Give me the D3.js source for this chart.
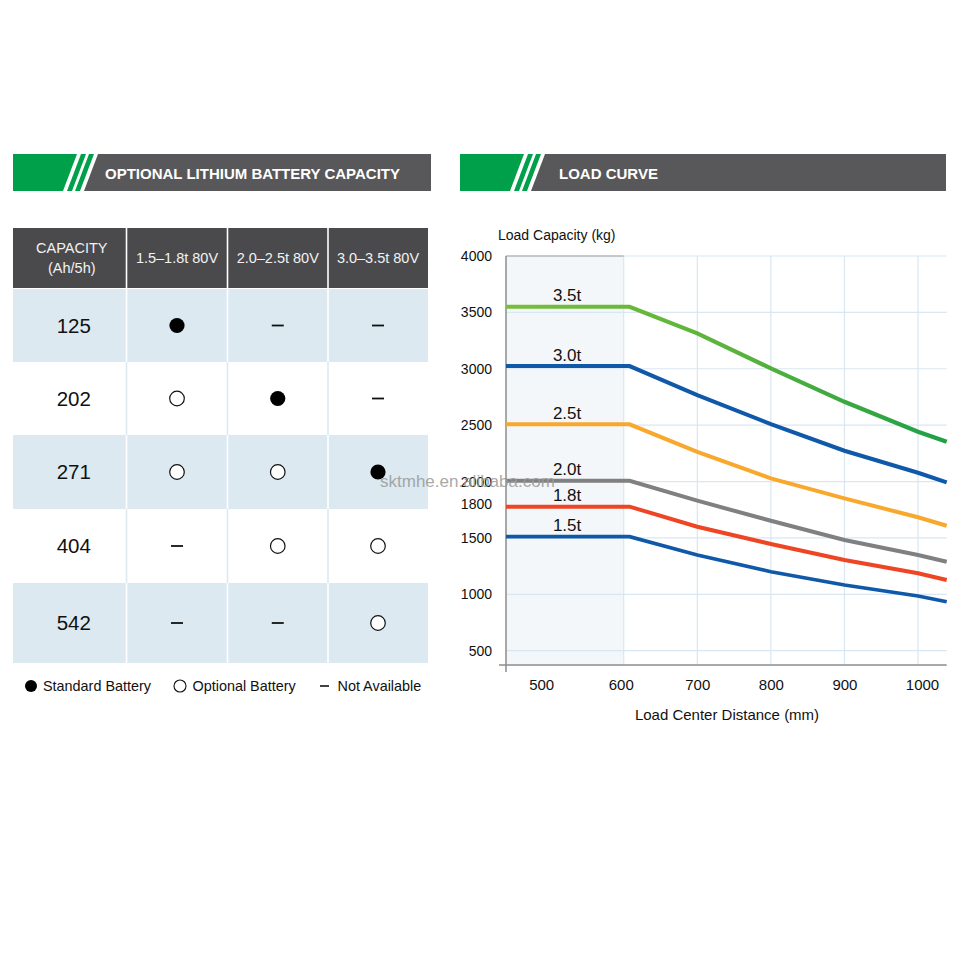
<!DOCTYPE html>
<html>
<head>
<meta charset="utf-8">
<script src="https://cdn.jsdelivr.net/npm/d3@7"></script>
<style>
  body { margin: 0; background: #fff; }
  svg { display: block; font-family: "Liberation Sans", Arial, sans-serif; }
</style>
</head>
<body>
<svg width="960" height="960"></svg>
<script>
// table data
let capacities = [125, 202, 271, 404, 542];
let models = ['1.5–1.8t 80V', '2.0–2.5t 80V', '3.0–3.5t 80V'];
// S = standard, O = optional, - = not available
let availability = [
	['S', '-', '-'],
	['O', 'S', '-'],
	['O', 'O', 'S'],
	['-', 'O', 'O'],
	['-', '-', 'O']
];

// load curve data
let loadCenters = [440, 608, 700, 800, 900, 1000, 1039];
let load35 = [3550, 3550, 3314, 3004, 2707, 2442, 2353];
let load30 = [3024, 3024, 2767, 2510, 2273, 2078, 1993];
let load25 = [2507, 2507, 2264, 2028, 1851, 1683, 1608];
let load20 = [2007, 2007, 1830, 1652, 1481, 1349, 1289];
let load18 = [1777, 1777, 1599, 1446, 1304, 1186, 1127];
let load15 = [1511, 1511, 1349, 1200, 1082, 985, 934];
let seriesNames = ['3.5t', '3.0t', '2.5t', '2.0t', '1.8t', '1.5t'];
let yTicks = [500, 1000, 1500, 1800, 2000, 2500, 3000, 3500, 4000];
let yGrid = [500, 1000, 1500, 2000, 2500, 3000, 3500, 4000];
let xTicks = [500, 600, 700, 800, 900, 1000];

let svg = d3.select('svg');
let defs = svg.append('defs');

// section header bar: green block, two slashes, gray strip
function header(x0, x1, title, textX) {
	let top = 154, bot = 191, s = 14;
	let g = svg.append('g');
	g.append('path')
		.attr('d', `M${x0},${top}H${x0 + 64}L${x0 + 64 - s},${bot}H${x0}Z`)
		.attr('fill', '#00a04b');
	[68, 76].forEach(o => {
		g.append('path')
			.attr('d', `M${x0 + o},${top}h5L${x0 + o + 5 - s},${bot}h-5Z`)
			.attr('fill', '#00a04b');
	});
	g.append('path')
		.attr('d', `M${x0 + 85},${top}H${x1}V${bot}H${x0 + 85 - s}Z`)
		.attr('fill', '#58585a');
	g.append('text')
		.attr('x', textX)
		.attr('y', 178.5)
		.attr('fill', '#fff')
		.attr('font-weight', 'bold')
		.attr('font-size', 15)
		.text(title);
}

header(13, 431, 'OPTIONAL LITHIUM BATTERY CAPACITY', 105);
header(460, 946, 'LOAD CURVE', 559);

// ---------- table ----------
let colEdges = [13, 126.5, 227.5, 328, 428];
let rowEdges = [289, 362, 435, 509, 583, 663];
let headTop = 228;

let table = svg.append('g');

// header cells
for (let c = 0; c < 4; c++) {
	table.append('rect')
		.attr('x', colEdges[c] + (c ? 0.8 : 0))
		.attr('y', headTop)
		.attr('width', colEdges[c + 1] - colEdges[c] - (c ? 0.8 : 0) - (c < 3 ? 0.8 : 0))
		.attr('height', rowEdges[0] - headTop - 1)
		.attr('fill', '#4a4a4d');
}
let headCx = c => (colEdges[c] + colEdges[c + 1]) / 2;
table.append('text')
	.attr('x', headCx(0) + 2).attr('y', 253)
	.attr('text-anchor', 'middle').attr('fill', '#f2f2f2').attr('font-size', 14.5)
	.text('CAPACITY');
table.append('text')
	.attr('x', headCx(0) + 2).attr('y', 273)
	.attr('text-anchor', 'middle').attr('fill', '#f2f2f2').attr('font-size', 14.5)
	.text('(Ah/5h)');
models.forEach((m, i) => {
	table.append('text')
		.attr('x', headCx(i + 1)).attr('y', 263)
		.attr('text-anchor', 'middle').attr('fill', '#f2f2f2').attr('font-size', 14.5)
		.text(m);
});

// body rows
capacities.forEach((cap, r) => {
	let y0 = rowEdges[r], y1 = rowEdges[r + 1];
	let shaded = r % 2 === 0;
	table.append('rect')
		.attr('x', colEdges[0]).attr('y', y0)
		.attr('width', colEdges[4] - colEdges[0]).attr('height', y1 - y0)
		.attr('fill', shaded ? '#dce9f1' : '#fff');
	for (let c = 1; c < 4; c++) {
		table.append('line')
			.attr('x1', colEdges[c]).attr('x2', colEdges[c])
			.attr('y1', y0).attr('y2', y1)
			.attr('stroke', shaded ? '#fff' : '#dce9f1')
			.attr('stroke-width', 1.6);
	}
	let cy = (y0 + y1) / 2;
	table.append('text')
		.attr('x', headCx(0) + 4).attr('y', cy + 7)
		.attr('text-anchor', 'middle').attr('font-size', 20.5).attr('fill', '#111')
		.text(cap);
	availability[r].forEach((a, c) => {
		let cx = headCx(c + 1);
		if (a === 'S') {
			table.append('circle').attr('cx', cx).attr('cy', cy).attr('r', 7.6).attr('fill', '#000');
		} else if (a === 'O') {
			table.append('circle').attr('cx', cx).attr('cy', cy).attr('r', 7.3)
				.attr('fill', '#fff').attr('stroke', '#111').attr('stroke-width', 1.2);
		} else {
			table.append('line')
				.attr('x1', cx - 6).attr('x2', cx + 6).attr('y1', cy).attr('y2', cy)
				.attr('stroke', '#111').attr('stroke-width', 1.8);
		}
	});
});

// legend
let legend = svg.append('g').attr('font-size', 14.4).attr('fill', '#111');
legend.append('circle').attr('cx', 31).attr('cy', 686).attr('r', 6).attr('fill', '#000');
legend.append('text').attr('x', 43).attr('y', 691).text('Standard Battery');
legend.append('circle').attr('cx', 180).attr('cy', 686).attr('r', 6)
	.attr('fill', '#fff').attr('stroke', '#111').attr('stroke-width', 1.1);
legend.append('text').attr('x', 192.5).attr('y', 691).text('Optional Battery');
legend.append('line').attr('x1', 320).attr('x2', 329).attr('y1', 686).attr('y2', 686)
	.attr('stroke', '#111').attr('stroke-width', 1.6);
legend.append('text').attr('x', 337.5).attr('y', 691).text('Not Available');

// ---------- load curve ----------
let x = d3.scaleLinear().domain([440, 1039]).range([506, 946.7]);
let y = d3.scaleLinear().domain([373, 4000]).range([665, 256]);

let chart = svg.append('g');

// shaded standard load-center zone
chart.append('rect')
	.attr('x', x(440)).attr('y', y(4000))
	.attr('width', x(600) - x(440)).attr('height', y(373) - y(4000))
	.attr('fill', '#f4f7fa');

// grid
chart.selectAll('.hgrid')
	.data(yGrid)
	.join('line')
	.attr('x1', x(440)).attr('x2', x(1039))
	.attr('y1', d => y(d)).attr('y2', d => y(d))
	.attr('stroke', '#d8e7f2').attr('stroke-width', 1.2);
chart.selectAll('.vgrid')
	.data(xTicks.filter(d => d >= 600))
	.join('line')
	.attr('x1', d => x(d)).attr('x2', d => x(d))
	.attr('y1', y(4000)).attr('y2', y(373))
	.attr('stroke', '#d8e7f2').attr('stroke-width', 1.2);
chart.append('line')
	.attr('x1', x(440)).attr('x2', x(600))
	.attr('y1', y(4000)).attr('y2', y(4000))
	.attr('stroke', '#a0a0a0').attr('stroke-width', 1);

// axes lines
chart.append('line')
	.attr('x1', x(440)).attr('x2', x(440))
	.attr('y1', y(4000)).attr('y2', y(373) + 7)
	.attr('stroke', '#8c8c8c').attr('stroke-width', 1.5);
chart.append('line')
	.attr('x1', x(440) - 7).attr('x2', x(1039))
	.attr('y1', y(373)).attr('y2', y(373))
	.attr('stroke', '#8c8c8c').attr('stroke-width', 1.5);

let yAxis = chart.append('g')
	.attr('transform', `translate(${x(440)},0)`)
	.call(d3.axisLeft(y).tickValues(yTicks).tickFormat(d3.format('d')).tickSize(0).tickPadding(14));
yAxis.select('.domain').remove();
yAxis.selectAll('text')
	.attr('font-size', 14).attr('fill', '#111').attr('font-family', '"Liberation Sans", Arial, sans-serif');

let xAxis = chart.append('g')
	.attr('transform', `translate(0,${y(373)})`)
	.call(d3.axisBottom(x).tickValues(xTicks).tickFormat(d3.format('d')).tickSize(0).tickPadding(14));
xAxis.select('.domain').remove();
xAxis.selectAll('text')
	.attr('font-size', 15).attr('fill', '#111').attr('font-family', '"Liberation Sans", Arial, sans-serif');
// labels of the first two ticks sit a little left of their gridlines
xAxis.selectAll('.tick text').attr('dx', d => d === 500 ? -9 : d === 600 ? -3 : d === 1000 ? 4 : 0);

chart.append('text')
	.attr('x', 498).attr('y', 240)
	.attr('font-size', 14).attr('fill', '#111')
	.text('Load Capacity (kg)');
chart.append('text')
	.attr('x', 727).attr('y', 720)
	.attr('text-anchor', 'middle')
	.attr('font-size', 15).attr('fill', '#111')
	.text('Load Center Distance (mm)');

// green gradient for the 3.5t curve
let grad = defs.append('linearGradient')
	.attr('id', 'g35')
	.attr('gradientUnits', 'userSpaceOnUse')
	.attr('x1', x(440)).attr('x2', x(1039)).attr('y1', 0).attr('y2', 0);
grad.append('stop').attr('offset', '0%').attr('stop-color', '#78be3c');
grad.append('stop').attr('offset', '50%').attr('stop-color', '#5cb43a');
grad.append('stop').attr('offset', '100%').attr('stop-color', '#1f9f47');

let seriesValues = [load35, load30, load25, load20, load18, load15];
let seriesColors = ['url(#g35)', '#1059a9', '#f8a82d', '#808080', '#ee4524', '#1059a9'];
let seriesWidths = [4.2, 4, 4, 4, 4, 3.6];

let line = d3.line()
	.x((d, i) => x(loadCenters[i]))
	.y(d => y(d));

chart.selectAll('.curve')
	.data(seriesValues)
	.join('path')
	.attr('d', line)
	.attr('fill', 'none')
	.attr('stroke', (d, i) => seriesColors[i])
	.attr('stroke-width', (d, i) => seriesWidths[i]);

chart.selectAll('.clabel')
	.data(seriesValues)
	.join('text')
	.attr('x', x(523))
	.attr('y', d => y(d[0]) - 5.5)
	.attr('text-anchor', 'middle')
	.attr('font-size', 17)
	.attr('fill', '#111')
	.text((d, i) => seriesNames[i]);

// watermark
svg.append('text')
	.attr('x', 380).attr('y', 487)
	.attr('font-size', 17)
	.attr('fill', '#9a9a9a')
	.attr('opacity', 0.85)
	.text('sktmhe.en.alibaba.com');
</script>
</body>
</html>
